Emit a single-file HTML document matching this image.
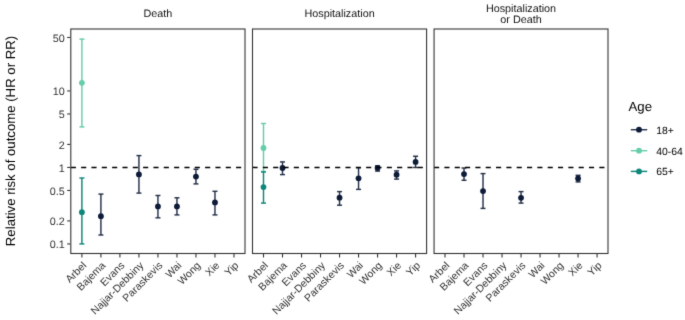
<!DOCTYPE html><html><head><meta charset="utf-8"><style>html,body{margin:0;padding:0;background:#fff}svg{display:block;will-change:transform}text{font-family:"Liberation Sans",sans-serif;text-rendering:geometricPrecision}</style></head><body>
<svg width="685" height="320" viewBox="0 0 685 320">
<defs><filter id="bl" x="-5%" y="-5%" width="110%" height="110%" color-interpolation-filters="sRGB"><feConvolveMatrix order="3" kernelMatrix="0.0113 0.0838 0.0113 0.0838 0.6193 0.0838 0.0113 0.0838 0.0113" edgeMode="none"/></filter></defs>
<rect width="685" height="320" fill="#fff"/>
<g filter="url(#bl)">
<text transform="translate(14.9,141) rotate(-90)" text-anchor="middle" font-size="13.2" fill="#000">Relative risk of outcome (HR or RR)</text>
<line x1="67.2" y1="37.48" x2="70" y2="37.48" stroke="#333333" stroke-width="1.1"/>
<text x="64.8" y="41.78" text-anchor="end" font-size="10.8" fill="#333333">50</text>
<line x1="67.2" y1="90.95" x2="70" y2="90.95" stroke="#333333" stroke-width="1.1"/>
<text x="64.8" y="95.25" text-anchor="end" font-size="10.8" fill="#333333">10</text>
<line x1="67.2" y1="113.98" x2="70" y2="113.98" stroke="#333333" stroke-width="1.1"/>
<text x="64.8" y="118.28" text-anchor="end" font-size="10.8" fill="#333333">5</text>
<line x1="67.2" y1="144.42" x2="70" y2="144.42" stroke="#333333" stroke-width="1.1"/>
<text x="64.8" y="148.72" text-anchor="end" font-size="10.8" fill="#333333">2</text>
<line x1="67.2" y1="167.45" x2="70" y2="167.45" stroke="#333333" stroke-width="1.1"/>
<text x="64.8" y="171.75" text-anchor="end" font-size="10.8" fill="#333333">1</text>
<line x1="67.2" y1="190.48" x2="70" y2="190.48" stroke="#333333" stroke-width="1.1"/>
<text x="64.8" y="194.78" text-anchor="end" font-size="10.8" fill="#333333">0.5</text>
<line x1="67.2" y1="220.92" x2="70" y2="220.92" stroke="#333333" stroke-width="1.1"/>
<text x="64.8" y="225.22" text-anchor="end" font-size="10.8" fill="#333333">0.2</text>
<line x1="67.2" y1="243.95" x2="70" y2="243.95" stroke="#333333" stroke-width="1.1"/>
<text x="64.8" y="248.25" text-anchor="end" font-size="10.8" fill="#333333">0.1</text>
<line x1="81.90" y1="253.5" x2="81.90" y2="257.5" stroke="#333333" stroke-width="1.1"/>
<text transform="translate(87.10,266.00) rotate(-45)" text-anchor="end" font-size="10.5" fill="#333333">Arbel</text>
<line x1="100.91" y1="253.5" x2="100.91" y2="257.5" stroke="#333333" stroke-width="1.1"/>
<text transform="translate(106.11,266.00) rotate(-45)" text-anchor="end" font-size="10.5" fill="#333333">Bajema</text>
<line x1="119.92" y1="253.5" x2="119.92" y2="257.5" stroke="#333333" stroke-width="1.1"/>
<text transform="translate(125.12,266.00) rotate(-45)" text-anchor="end" font-size="10.5" fill="#333333">Evans</text>
<line x1="138.93" y1="253.5" x2="138.93" y2="257.5" stroke="#333333" stroke-width="1.1"/>
<text transform="translate(144.13,266.00) rotate(-45)" text-anchor="end" font-size="10.5" fill="#333333">Najjar-Debbiny</text>
<line x1="157.94" y1="253.5" x2="157.94" y2="257.5" stroke="#333333" stroke-width="1.1"/>
<text transform="translate(163.14,266.00) rotate(-45)" text-anchor="end" font-size="10.5" fill="#333333">Paraskevis</text>
<line x1="176.95" y1="253.5" x2="176.95" y2="257.5" stroke="#333333" stroke-width="1.1"/>
<text transform="translate(182.15,266.00) rotate(-45)" text-anchor="end" font-size="10.5" fill="#333333">Wai</text>
<line x1="195.96" y1="253.5" x2="195.96" y2="257.5" stroke="#333333" stroke-width="1.1"/>
<text transform="translate(201.16,266.00) rotate(-45)" text-anchor="end" font-size="10.5" fill="#333333">Wong</text>
<line x1="214.97" y1="253.5" x2="214.97" y2="257.5" stroke="#333333" stroke-width="1.1"/>
<text transform="translate(220.17,266.00) rotate(-45)" text-anchor="end" font-size="10.5" fill="#333333">Xie</text>
<line x1="233.98" y1="253.5" x2="233.98" y2="257.5" stroke="#333333" stroke-width="1.1"/>
<text transform="translate(239.18,266.00) rotate(-45)" text-anchor="end" font-size="10.5" fill="#333333">Yip</text>
<text x="157.9" y="17" text-anchor="middle" font-size="10.8" fill="#111111">Death</text>
<line x1="263.50" y1="253.5" x2="263.50" y2="257.5" stroke="#333333" stroke-width="1.1"/>
<text transform="translate(268.70,266.00) rotate(-45)" text-anchor="end" font-size="10.5" fill="#333333">Arbel</text>
<line x1="282.51" y1="253.5" x2="282.51" y2="257.5" stroke="#333333" stroke-width="1.1"/>
<text transform="translate(287.71,266.00) rotate(-45)" text-anchor="end" font-size="10.5" fill="#333333">Bajema</text>
<line x1="301.52" y1="253.5" x2="301.52" y2="257.5" stroke="#333333" stroke-width="1.1"/>
<text transform="translate(306.72,266.00) rotate(-45)" text-anchor="end" font-size="10.5" fill="#333333">Evans</text>
<line x1="320.53" y1="253.5" x2="320.53" y2="257.5" stroke="#333333" stroke-width="1.1"/>
<text transform="translate(325.73,266.00) rotate(-45)" text-anchor="end" font-size="10.5" fill="#333333">Najjar-Debbiny</text>
<line x1="339.54" y1="253.5" x2="339.54" y2="257.5" stroke="#333333" stroke-width="1.1"/>
<text transform="translate(344.74,266.00) rotate(-45)" text-anchor="end" font-size="10.5" fill="#333333">Paraskevis</text>
<line x1="358.55" y1="253.5" x2="358.55" y2="257.5" stroke="#333333" stroke-width="1.1"/>
<text transform="translate(363.75,266.00) rotate(-45)" text-anchor="end" font-size="10.5" fill="#333333">Wai</text>
<line x1="377.56" y1="253.5" x2="377.56" y2="257.5" stroke="#333333" stroke-width="1.1"/>
<text transform="translate(382.76,266.00) rotate(-45)" text-anchor="end" font-size="10.5" fill="#333333">Wong</text>
<line x1="396.57" y1="253.5" x2="396.57" y2="257.5" stroke="#333333" stroke-width="1.1"/>
<text transform="translate(401.77,266.00) rotate(-45)" text-anchor="end" font-size="10.5" fill="#333333">Xie</text>
<line x1="415.58" y1="253.5" x2="415.58" y2="257.5" stroke="#333333" stroke-width="1.1"/>
<text transform="translate(420.78,266.00) rotate(-45)" text-anchor="end" font-size="10.5" fill="#333333">Yip</text>
<text x="339.55" y="17" text-anchor="middle" font-size="10.8" fill="#111111">Hospitalization</text>
<line x1="445.00" y1="253.5" x2="445.00" y2="257.5" stroke="#333333" stroke-width="1.1"/>
<text transform="translate(450.20,266.00) rotate(-45)" text-anchor="end" font-size="10.5" fill="#333333">Arbel</text>
<line x1="464.01" y1="253.5" x2="464.01" y2="257.5" stroke="#333333" stroke-width="1.1"/>
<text transform="translate(469.21,266.00) rotate(-45)" text-anchor="end" font-size="10.5" fill="#333333">Bajema</text>
<line x1="483.02" y1="253.5" x2="483.02" y2="257.5" stroke="#333333" stroke-width="1.1"/>
<text transform="translate(488.22,266.00) rotate(-45)" text-anchor="end" font-size="10.5" fill="#333333">Evans</text>
<line x1="502.03" y1="253.5" x2="502.03" y2="257.5" stroke="#333333" stroke-width="1.1"/>
<text transform="translate(507.23,266.00) rotate(-45)" text-anchor="end" font-size="10.5" fill="#333333">Najjar-Debbiny</text>
<line x1="521.04" y1="253.5" x2="521.04" y2="257.5" stroke="#333333" stroke-width="1.1"/>
<text transform="translate(526.24,266.00) rotate(-45)" text-anchor="end" font-size="10.5" fill="#333333">Paraskevis</text>
<line x1="540.05" y1="253.5" x2="540.05" y2="257.5" stroke="#333333" stroke-width="1.1"/>
<text transform="translate(545.25,266.00) rotate(-45)" text-anchor="end" font-size="10.5" fill="#333333">Wai</text>
<line x1="559.06" y1="253.5" x2="559.06" y2="257.5" stroke="#333333" stroke-width="1.1"/>
<text transform="translate(564.26,266.00) rotate(-45)" text-anchor="end" font-size="10.5" fill="#333333">Wong</text>
<line x1="578.07" y1="253.5" x2="578.07" y2="257.5" stroke="#333333" stroke-width="1.1"/>
<text transform="translate(583.27,266.00) rotate(-45)" text-anchor="end" font-size="10.5" fill="#333333">Xie</text>
<line x1="597.08" y1="253.5" x2="597.08" y2="257.5" stroke="#333333" stroke-width="1.1"/>
<text transform="translate(602.28,266.00) rotate(-45)" text-anchor="end" font-size="10.5" fill="#333333">Yip</text>
<text x="521.03" y="11.5" text-anchor="middle" font-size="10.8" fill="#111111">Hospitalization</text>
<text x="521.03" y="22.5" text-anchor="middle" font-size="10.8" fill="#111111">or Death</text>
<g stroke="#66cdaa" stroke-width="1.45" fill="none"><line x1="81.90" y1="39.1" x2="81.90" y2="126.9"/><line x1="79.40" y1="39.1" x2="84.40" y2="39.1"/><line x1="79.40" y1="126.9" x2="84.40" y2="126.9"/></g>
<circle cx="81.90" cy="82.8" r="2.9" fill="#66cdaa"/>
<g stroke="#0e877b" stroke-width="1.45" fill="none"><line x1="81.90" y1="178.0" x2="81.90" y2="243.9"/><line x1="79.40" y1="178.0" x2="84.40" y2="178.0"/><line x1="79.40" y1="243.9" x2="84.40" y2="243.9"/></g>
<circle cx="81.90" cy="212.2" r="2.9" fill="#0e877b"/>
<g stroke="#27324a" stroke-width="1.45" fill="none"><line x1="100.91" y1="194.1" x2="100.91" y2="235.0"/><line x1="98.41" y1="194.1" x2="103.41" y2="194.1"/><line x1="98.41" y1="235.0" x2="103.41" y2="235.0"/></g>
<circle cx="100.91" cy="216.2" r="2.9" fill="#0d1b38"/>
<g stroke="#27324a" stroke-width="1.45" fill="none"><line x1="138.93" y1="155.6" x2="138.93" y2="193.1"/><line x1="136.43" y1="155.6" x2="141.43" y2="155.6"/><line x1="136.43" y1="193.1" x2="141.43" y2="193.1"/></g>
<circle cx="138.93" cy="174.4" r="2.9" fill="#0d1b38"/>
<g stroke="#27324a" stroke-width="1.45" fill="none"><line x1="157.94" y1="195.5" x2="157.94" y2="217.8"/><line x1="155.44" y1="195.5" x2="160.44" y2="195.5"/><line x1="155.44" y1="217.8" x2="160.44" y2="217.8"/></g>
<circle cx="157.94" cy="206.4" r="2.9" fill="#0d1b38"/>
<g stroke="#27324a" stroke-width="1.45" fill="none"><line x1="176.95" y1="197.8" x2="176.95" y2="214.9"/><line x1="174.45" y1="197.8" x2="179.45" y2="197.8"/><line x1="174.45" y1="214.9" x2="179.45" y2="214.9"/></g>
<circle cx="176.95" cy="206.4" r="2.9" fill="#0d1b38"/>
<g stroke="#27324a" stroke-width="1.45" fill="none"><line x1="195.96" y1="169.25" x2="195.96" y2="183.9"/><line x1="193.46" y1="169.25" x2="198.46" y2="169.25"/><line x1="193.46" y1="183.9" x2="198.46" y2="183.9"/></g>
<circle cx="195.96" cy="176.6" r="2.9" fill="#0d1b38"/>
<g stroke="#27324a" stroke-width="1.45" fill="none"><line x1="214.97" y1="191.3" x2="214.97" y2="214.9"/><line x1="212.47" y1="191.3" x2="217.47" y2="191.3"/><line x1="212.47" y1="214.9" x2="217.47" y2="214.9"/></g>
<circle cx="214.97" cy="202.4" r="2.9" fill="#0d1b38"/>
<g stroke="#66cdaa" stroke-width="1.45" fill="none"><line x1="263.50" y1="123.5" x2="263.50" y2="171.5"/><line x1="261.00" y1="123.5" x2="266.00" y2="123.5"/><line x1="261.00" y1="171.5" x2="266.00" y2="171.5"/></g>
<circle cx="263.50" cy="148.0" r="2.9" fill="#66cdaa"/>
<g stroke="#0e877b" stroke-width="1.45" fill="none"><line x1="263.50" y1="171.9" x2="263.50" y2="203.1"/><line x1="261.00" y1="171.9" x2="266.00" y2="171.9"/><line x1="261.00" y1="203.1" x2="266.00" y2="203.1"/></g>
<circle cx="263.50" cy="187.1" r="2.9" fill="#0e877b"/>
<g stroke="#27324a" stroke-width="1.45" fill="none"><line x1="282.51" y1="161.9" x2="282.51" y2="174.6"/><line x1="280.01" y1="161.9" x2="285.01" y2="161.9"/><line x1="280.01" y1="174.6" x2="285.01" y2="174.6"/></g>
<circle cx="282.51" cy="168.0" r="2.9" fill="#0d1b38"/>
<g stroke="#27324a" stroke-width="1.45" fill="none"><line x1="339.54" y1="191.6" x2="339.54" y2="205.2"/><line x1="337.04" y1="191.6" x2="342.04" y2="191.6"/><line x1="337.04" y1="205.2" x2="342.04" y2="205.2"/></g>
<circle cx="339.54" cy="197.7" r="2.9" fill="#0d1b38"/>
<g stroke="#27324a" stroke-width="1.45" fill="none"><line x1="358.55" y1="167.7" x2="358.55" y2="189.4"/><line x1="356.05" y1="167.7" x2="361.05" y2="167.7"/><line x1="356.05" y1="189.4" x2="361.05" y2="189.4"/></g>
<circle cx="358.55" cy="178.3" r="2.9" fill="#0d1b38"/>
<g stroke="#27324a" stroke-width="1.45" fill="none"><line x1="377.56" y1="165.8" x2="377.56" y2="171.1"/><line x1="375.06" y1="165.8" x2="380.06" y2="165.8"/><line x1="375.06" y1="171.1" x2="380.06" y2="171.1"/></g>
<circle cx="377.56" cy="168.0" r="2.9" fill="#0d1b38"/>
<g stroke="#27324a" stroke-width="1.45" fill="none"><line x1="396.57" y1="170.9" x2="396.57" y2="179.1"/><line x1="394.07" y1="170.9" x2="399.07" y2="170.9"/><line x1="394.07" y1="179.1" x2="399.07" y2="179.1"/></g>
<circle cx="396.57" cy="174.7" r="2.9" fill="#0d1b38"/>
<g stroke="#27324a" stroke-width="1.45" fill="none"><line x1="415.58" y1="156.25" x2="415.58" y2="167.5"/><line x1="413.08" y1="156.25" x2="418.08" y2="156.25"/><line x1="413.08" y1="167.5" x2="418.08" y2="167.5"/></g>
<circle cx="415.58" cy="161.9" r="2.9" fill="#0d1b38"/>
<g stroke="#27324a" stroke-width="1.45" fill="none"><line x1="464.01" y1="168.0" x2="464.01" y2="180.3"/><line x1="461.51" y1="168.0" x2="466.51" y2="168.0"/><line x1="461.51" y1="180.3" x2="466.51" y2="180.3"/></g>
<circle cx="464.01" cy="174.1" r="2.9" fill="#0d1b38"/>
<g stroke="#27324a" stroke-width="1.45" fill="none"><line x1="483.02" y1="173.6" x2="483.02" y2="208.4"/><line x1="480.52" y1="173.6" x2="485.52" y2="173.6"/><line x1="480.52" y1="208.4" x2="485.52" y2="208.4"/></g>
<circle cx="483.02" cy="191.1" r="2.9" fill="#0d1b38"/>
<g stroke="#27324a" stroke-width="1.45" fill="none"><line x1="521.04" y1="191.6" x2="521.04" y2="203.1"/><line x1="518.54" y1="191.6" x2="523.54" y2="191.6"/><line x1="518.54" y1="203.1" x2="523.54" y2="203.1"/></g>
<circle cx="521.04" cy="197.8" r="2.9" fill="#0d1b38"/>
<g stroke="#27324a" stroke-width="1.45" fill="none"><line x1="578.07" y1="175.3" x2="578.07" y2="181.9"/><line x1="575.57" y1="175.3" x2="580.57" y2="175.3"/><line x1="575.57" y1="181.9" x2="580.57" y2="181.9"/></g>
<circle cx="578.07" cy="178.4" r="2.9" fill="#0d1b38"/>
<line x1="70.8" y1="167.45" x2="245.0" y2="167.45" stroke="#000" stroke-width="1.5" stroke-dasharray="5.1 5.23"/>
<line x1="252.5" y1="167.45" x2="426.6" y2="167.45" stroke="#000" stroke-width="1.5" stroke-dasharray="5.1 5.23"/>
<line x1="434.06" y1="167.45" x2="608.0" y2="167.45" stroke="#000" stroke-width="1.5" stroke-dasharray="5.1 5.23"/>
<rect x="70.8" y="29.0" width="174.2" height="224.5" fill="none" stroke="#333333" stroke-width="1.1"/>
<rect x="252.5" y="29.0" width="174.10000000000002" height="224.5" fill="none" stroke="#333333" stroke-width="1.1"/>
<rect x="434.06" y="29.0" width="173.94" height="224.5" fill="none" stroke="#333333" stroke-width="1.1"/>
<text x="628.5" y="111.4" font-size="13.2" fill="#000">Age</text>
<line x1="630.8" y1="129.7" x2="647.2" y2="129.7" stroke="#27324a" stroke-width="1.45"/>
<circle cx="639" cy="129.7" r="2.9" fill="#0d1b38"/>
<text x="656.3" y="133.60" font-size="10.4" fill="#000">18+</text>
<line x1="630.8" y1="150.7" x2="647.2" y2="150.7" stroke="#66cdaa" stroke-width="1.45"/>
<circle cx="639" cy="150.7" r="2.9" fill="#66cdaa"/>
<text x="656.3" y="154.60" font-size="10.4" fill="#000">40-64</text>
<line x1="630.8" y1="171.4" x2="647.2" y2="171.4" stroke="#0e877b" stroke-width="1.45"/>
<circle cx="639" cy="171.4" r="2.9" fill="#0e877b"/>
<text x="656.3" y="175.30" font-size="10.4" fill="#000">65+</text>
</g></svg></body></html>
